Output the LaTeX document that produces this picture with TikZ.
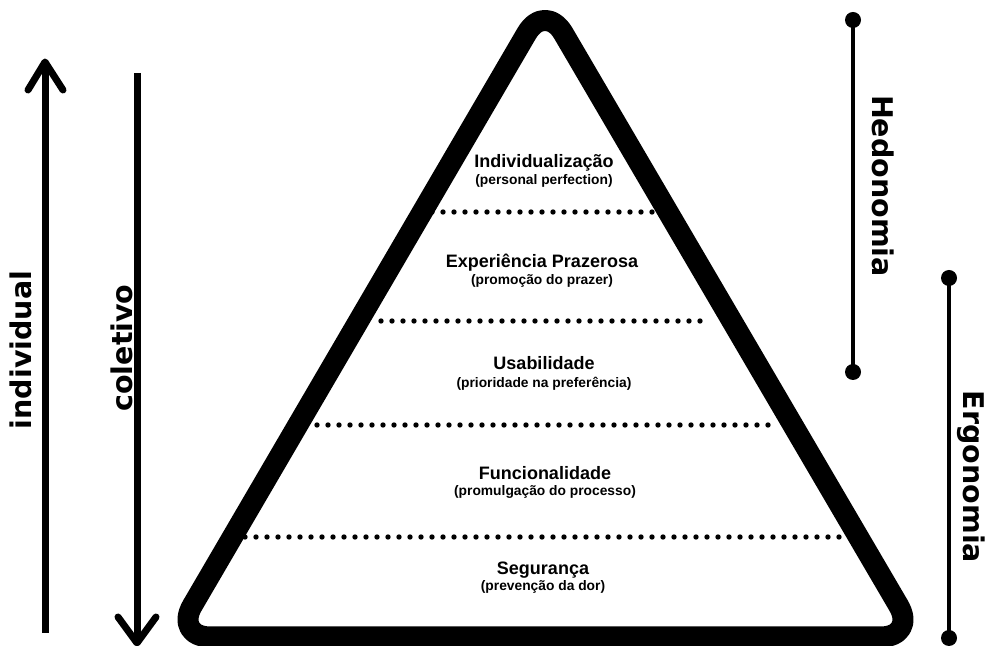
\documentclass[tikz,border=0pt]{standalone}
\usepackage{fontspec}
\setmainfont{Liberation Sans}
\newfontfamily\labelfont{DejaVu Sans}
\usetikzlibrary{calc}
\begin{document}
\begin{tikzpicture}[x=0.5pt,y=-0.5pt,
  ttl/.style={font=\fontsize{9pt}{10pt}\selectfont\bfseries, anchor=base, inner sep=0pt},
  sub/.style={font=\fontsize{6.9pt}{8pt}\selectfont\bfseries, anchor=base, inner sep=0pt},
  side/.style={font=\labelfont\bfseries\fontsize{14.25pt}{16pt}\selectfont, anchor=base, inner sep=0pt},
  dotrow/.style={line width=2.7pt, line cap=round, dash pattern=on 0pt off 5.5pt},
  shaft/.style={line width=3.5pt},
  chevron/.style={line width=3.5pt, line cap=round, line join=round},
  bracket/.style={line width=1.75pt},
  endpt/.style={circle, fill, inner sep=0pt, minimum size=8pt},
  pyramid/.style={line width=10.5pt, rounded corners=18.2pt, line join=round}]

\useasboundingbox (0,0) rectangle (992,646);

% level separators
\coordinate (d1l) at (432,212); \coordinate (d1r) at (658,212);
\coordinate (d2l) at (381,321); \coordinate (d2r) at (707,321);
\coordinate (d3l) at (317,425); \coordinate (d3r) at (770,425);
\coordinate (d4l) at (245,537); \coordinate (d4r) at (850,537);
\draw[dotrow] (d1l) -- (d1r);
\draw[dotrow] (d2l) -- (d2r);
\draw[dotrow] (d3l) -- (d3r);
\draw[dotrow] (d4l) -- (d4r);

% pyramid outline
\coordinate (apex) at (545,2);
\coordinate (bl) at (174,637);
\coordinate (br) at (917,637);
\draw[pyramid] (apex) -- (bl) -- (br) -- cycle;

% level texts
\node[ttl] (t1) at (544,168) {Individualização};
\node[sub] (s1) at (544,185) {(personal perfection)};
\node[ttl] (t2) at (542,268) {Experiência Prazerosa};
\node[sub] (s2) at (542,285) {(promoção do prazer)};
\node[ttl] (t3) at (544,370) {Usabilidade};
\node[sub] (s3) at (544,388) {(prioridade na preferência)};
\node[ttl] (t4) at (545,480) {Funcionalidade};
\node[sub] (s4) at (545,496) {(promulgação do processo)};
\node[ttl] (t5) at (543,575) {Segurança};
\node[sub] (s5) at (543,591) {(prevenção da dor)};

% upward arrow: individual
\coordinate (ia) at (45,633);
\coordinate (ib) at (45,62);
\draw[shaft] (ia) -- (ib);
\draw[chevron] ($(ib)+(-17,28)$) -- (ib) -- ($(ib)+(18,28)$);
\node[side, rotate=90] (lind) at (32,350) {individual};

% downward arrow: coletivo
\coordinate (ca) at (137,73);
\coordinate (cb) at (137,643);
\draw[shaft] (ca) -- (cb);
\draw[chevron] ($(cb)+(-19,-26)$) -- (cb) -- ($(cb)+(19,-26)$);
\node[side, rotate=90] (lcol) at (132,348) {coletivo};

% Hedonomia range
\node[endpt] (h1) at (853,20) {};
\node[endpt] (h2) at (853,372) {};
\draw[bracket] (h1.center) -- (h2.center);
\node[side, rotate=-90] (lhed) at (872,186) {Hedonomia};

% Ergonomia range
\node[endpt] (e1) at (949,278) {};
\node[endpt] (e2) at (949,638) {};
\draw[bracket] (e1.center) -- (e2.center);
\node[side, rotate=-90] (lerg) at (963,477) {Ergonomia};
\end{tikzpicture}
\end{document}
